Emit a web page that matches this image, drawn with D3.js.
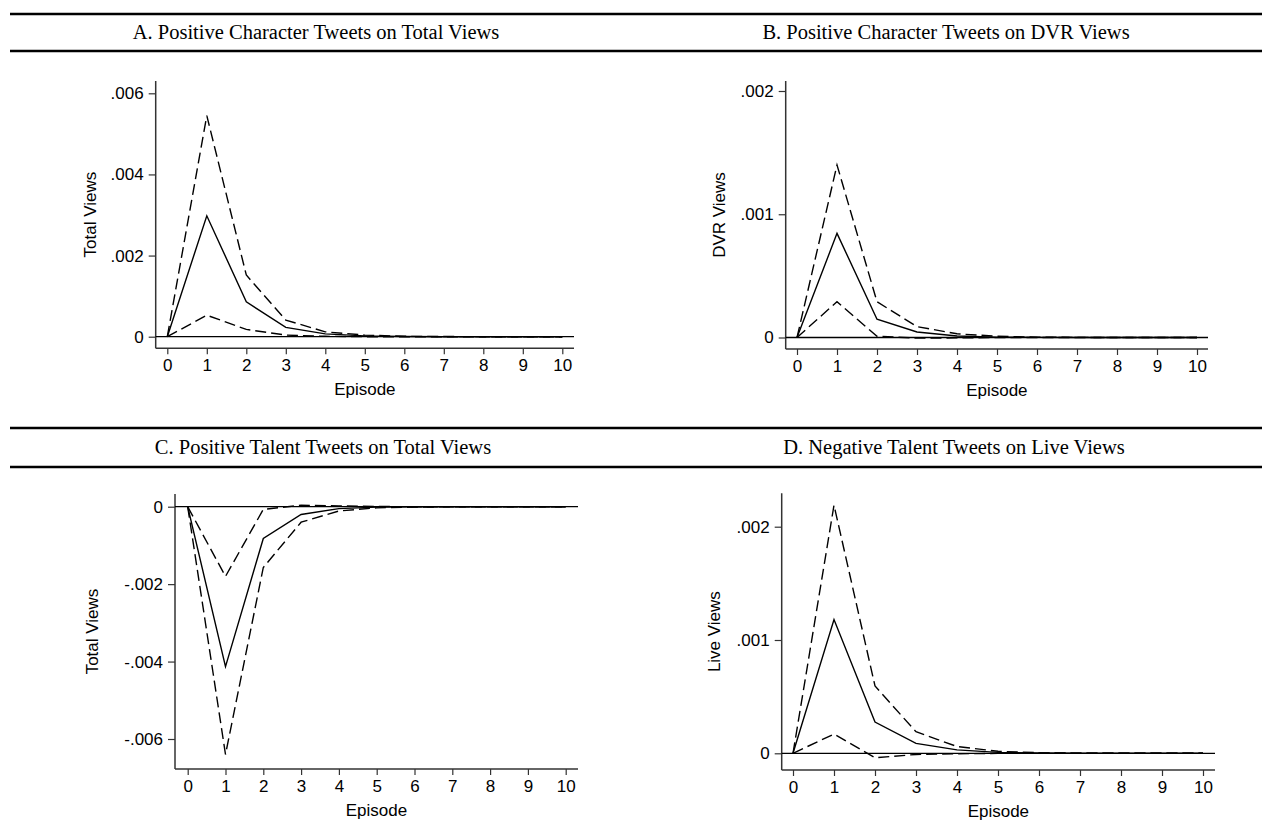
<!DOCTYPE html>
<html>
<head>
<meta charset="utf-8">
<script src="https://cdn.jsdelivr.net/npm/d3@7"></script>
<style>
  body { margin: 0; background: #fff; }
  svg { display: block; }
</style>
</head>
<body>
<div class="view"></div>
<script>
// Episodes after the shock
const episodes = [0, 1, 2, 3, 4, 5, 6, 7, 8, 9, 10];

// A. Positive character tweets -> total views
const aEst = [0, 0.00298, 0.00086, 0.00023, 0.00007, 0.00002, 0.000005, 0, 0, 0, 0];
const aHi  = [0, 0.00545, 0.00152, 0.00041, 0.00012, 0.00004, 0.00001, 0.000005, 0, 0, 0];
const aLo  = [0, 0.00053, 0.00018, 0.00004, 0.00001, 0, 0, 0, 0, 0, 0];

// B. Positive character tweets -> DVR views
const bEst = [0, 0.000845, 0.000148, 0.000045, 0.000012, 0.000003, 0.000001, 0, 0, 0, 0];
const bHi  = [0, 0.0014, 0.00029, 0.000088, 0.00003, 0.00001, 0.000003, 0.000001, 0, 0, 0];
const bLo  = [0, 0.00029, 0.00001, -0.000005, -0.000003, -0.000001, 0, 0, 0, 0, 0];

// C. Positive talent tweets -> total views
const cEst = [0, -0.00413, -0.00082, -0.0002, -0.00005, -0.00001, -0.000003, 0, 0, 0, 0];
const cHi  = [0, -0.0018, -0.00007, 0.00004, 0.00002, 0.000005, 0, 0, 0, 0, 0];
const cLo  = [0, -0.0064, -0.00157, -0.0004, -0.00011, -0.00003, -0.00001, -0.000003, 0, 0, 0];

// D. Negative talent tweets -> live views
const dEst = [0, 0.00118, 0.000276, 0.000088, 0.00003, 0.000008, 0.000002, 0, 0, 0, 0];
const dHi  = [0, 0.00219, 0.000594, 0.00019, 0.00006, 0.000018, 0.000005, 0.000001, 0, 0, 0];
const dLo  = [0, 0.00017, -0.00004, -0.00001, -0.000004, -0.000001, 0, 0, 0, 0, 0];

const titles = ["A. Positive Character Tweets on Total Views",
                "B. Positive Character Tweets on DVR Views",
                "C. Positive Talent Tweets on Total Views",
                "D. Negative Talent Tweets on Live Views"];
const yLabels = ["Total Views", "DVR Views", "Total Views", "Live Views"];
const yTicksA = [0, 0.002, 0.004, 0.006];
const yTicksB = [0, 0.001, 0.002];
const yTicksC = [-0.006, -0.004, -0.002, 0];
const yTicksD = [0, 0.001, 0.002];

const W = 1262, H = 840;

// pixel geometry of each panel (axis corner, first/last x tick, y reference tick)
const panels = [
  {est: aEst, hi: aHi, lo: aLo, ticks: yTicksA, refTick: 0.006,
   axX: 155.7, x0: 167.3, x10: 562.3, right: 574, top: 81, bottom: 348.3, zeroY: 336.7, refY: 93.3, labX: 89.5},
  {est: bEst, hi: bHi, lo: bLo, ticks: yTicksB, refTick: 0.002,
   axX: 785.7, x0: 797, x10: 1197, right: 1208, top: 81, bottom: 349, zeroY: 337.5, refY: 91, labX: 718.5},
  {est: cEst, hi: cHi, lo: cLo, ticks: yTicksC, refTick: -0.006,
   axX: 175, x0: 187.7, x10: 565.7, right: 578, top: 494, bottom: 769, zeroY: 506.7, refY: 739, labX: 92},
  {est: dEst, hi: dHi, lo: dLo, ticks: yTicksD, refTick: 0.002,
   axX: 781.7, x0: 793, x10: 1203, right: 1215, top: 493.3, bottom: 770, zeroY: 753.3, refY: 526.7, labX: 713.5}
];

const svg = d3.select(".view").append("svg")
    .attr("width", W)
    .attr("height", H);

// header rules and panel titles
const rules = [14, 51, 428, 467];
svg.selectAll("line.rule")
    .data(rules)
    .enter().append("line")
    .attr("class", "rule")
    .attr("x1", 10).attr("x2", W)
    .attr("y1", d => d).attr("y2", d => d)
    .attr("stroke", "#000")
    .attr("stroke-width", 2.4);

const titlePos = [[316, 39], [946, 39], [323, 454], [954, 454]];
svg.selectAll("text.title")
    .data(titles)
    .enter().append("text")
    .attr("class", "title")
    .attr("x", (d, i) => titlePos[i][0])
    .attr("y", (d, i) => titlePos[i][1])
    .attr("text-anchor", "middle")
    .attr("font-family", "'Liberation Serif', 'Times New Roman', serif")
    .attr("font-size", 20.5)
    .text(d => d);

// Stata style tick labels: .002, -.004, 0
const fmt = d => d === 0 ? "0" : d3.format(".3f")(d).replace("\u2212", "-").replace("0.", ".");

const lineStyles = [
  {key: "hi", dash: "11,5"},
  {key: "lo", dash: "11,5"},
  {key: "est", dash: null}
];

panels.forEach((p, i) => {
    let g = svg.append("g");

    let x = d3.scaleLinear().domain([0, 10]).range([p.x0, p.x10]);
    let y = d3.scaleLinear().domain([0, p.refTick]).range([p.zeroY, p.refY]);

    // y axis
    let yAxis = d3.axisLeft(y)
        .tickValues(p.ticks)
        .tickFormat(fmt)
        .tickSize(7)
        .tickPadding(5);
    let yg = g.append("g")
        .attr("transform", "translate(" + p.axX + ",0)")
        .call(yAxis);
    yg.select(".domain").remove();
    g.append("line")
        .attr("x1", p.axX).attr("x2", p.axX)
        .attr("y1", p.top).attr("y2", p.bottom)
        .attr("stroke", "#333").attr("stroke-width", 1.5);

    // x axis
    let xAxis = d3.axisBottom(x)
        .tickValues(episodes)
        .tickSize(6)
        .tickPadding(5);
    let xg = g.append("g")
        .attr("transform", "translate(0," + p.bottom + ")")
        .call(xAxis);
    xg.select(".domain").remove();
    g.append("line")
        .attr("x1", p.axX).attr("x2", p.right)
        .attr("y1", p.bottom).attr("y2", p.bottom)
        .attr("stroke", "#333").attr("stroke-width", 1.5);

    g.selectAll(".tick line").attr("stroke", "#333").attr("stroke-width", 1.2);
    g.selectAll(".tick text")
        .attr("font-family", "'Liberation Sans', Arial, sans-serif")
        .attr("font-size", 17)
        .attr("fill", "#000");

    // axis titles
    g.append("text")
        .attr("x", (p.axX + p.right) / 2)
        .attr("y", p.bottom + 46.5)
        .attr("text-anchor", "middle")
        .attr("font-family", "'Liberation Sans', Arial, sans-serif")
        .attr("font-size", 17)
        .text("Episode");

    g.append("text")
        .attr("transform", "translate(" + (p.labX + 6) + "," + ((p.top + p.bottom) / 2) + ") rotate(-90)")
        .attr("text-anchor", "middle")
        .attr("font-family", "'Liberation Sans', Arial, sans-serif")
        .attr("font-size", 17)
        .text(yLabels[i]);

    // zero reference line
    g.append("line")
        .attr("x1", p.axX).attr("x2", p.right)
        .attr("y1", y(0)).attr("y2", y(0))
        .attr("stroke", "#000").attr("stroke-width", 1.3);

    // response and confidence bands
    let line = d3.line()
        .x((d, j) => x(episodes[j]))
        .y(d => y(d));

    lineStyles.forEach(s => {
        g.append("path")
            .datum(p[s.key])
            .attr("d", line)
            .attr("fill", "none")
            .attr("stroke", "#000")
            .attr("stroke-width", 1.4)
            .attr("stroke-dasharray", s.dash);
    });
});
</script>
</body>
</html>
